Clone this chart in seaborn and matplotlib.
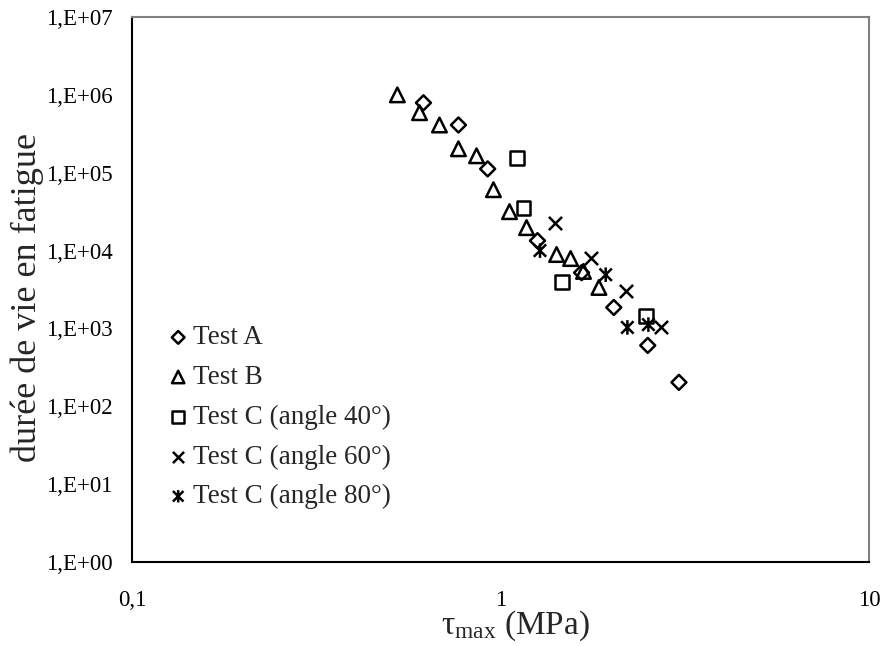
import numpy as np
import pandas as pd
import seaborn as sns
import matplotlib
matplotlib.use("Agg")
import matplotlib.pyplot as plt
from matplotlib.path import Path
from matplotlib.ticker import LogLocator, NullFormatter

# Fatigue life versus maximum shear stress, per test series
tau_a = [0.618, 0.769, 0.923, 1.26, 1.66, 2.03, 2.51, 3.05]
n_a = [7.9e5, 4.1e5, 1.12e5, 1.34e4, 5.2e3, 1.86e3, 605, 203]

tau_b = [0.525, 0.603, 0.683, 0.769, 0.861, 0.957, 1.058, 1.177, 1.42, 1.55, 1.68, 1.85]
n_b = [1.0e6, 5.9e5, 4.1e5, 2.03e5, 1.65e5, 6.05e4, 3.16e4, 1.97e4, 8.9e3, 7.9e3, 5.4e3, 3.36e3]

tau_c40 = [1.11, 1.155, 1.47, 2.48]
n_c40 = [1.56e5, 3.56e4, 3.9e3, 1.43e3]

tau_c60 = [1.41, 1.76, 2.19, 2.72]
n_c60 = [2.29e4, 8.1e3, 3.07e3, 1.03e3]

tau_c80 = [1.28, 1.93, 2.21, 2.52]
n_c80 = [1.0e4, 4.9e3, 1.03e3, 1.12e3]

labels = ["Test A", "Test B", "Test C (angle 40°)", "Test C (angle 60°)", "Test C (angle 80°)"]

x_ticks = [0.1, 1, 10]
x_ticklabels = ["0,1", "1", "10"]
y_ticks = [1e0, 1e1, 1e2, 1e3, 1e4, 1e5, 1e6, 1e7]
y_ticklabels = ["1,E+00", "1,E+01", "1,E+02", "1,E+03", "1,E+04", "1,E+05", "1,E+06", "1,E+07"]

# six-armed asterisk: vertical bar plus a diagonal cross
star_path = Path(
    [(0, -1), (0, 1), (-0.85, -0.85), (0.85, 0.85), (-0.85, 0.85), (0.85, -0.85)],
    [Path.MOVETO, Path.LINETO, Path.MOVETO, Path.LINETO, Path.MOVETO, Path.LINETO],
)

series = [
    (tau_a, n_a, "D", 58),
    (tau_b, n_b, "^", 110),
    (tau_c40, n_c40, "s", 100),
    (tau_c60, n_c60, "x", 90),
    (tau_c80, n_c80, star_path, 110),
]

sns.set_theme(style="white")
plt.rcParams["font.family"] = ["Liberation Serif", "DejaVu Serif"]
plt.rcParams["mathtext.fontset"] = "stix"

fig = plt.figure(figsize=(8.84, 6.46), dpi=100)
ax = fig.add_axes([0.1493, 0.130, 0.8337, 0.8437])

for (xs, ys, mk, sz), lab in zip(series, labels):
    df = pd.DataFrame({"tau": xs, "n": ys})
    if mk == "x":
        sns.scatterplot(data=df, x="tau", y="n", marker=mk, s=sz, color="black",
                        linewidth=1.8, label=lab, ax=ax)
    else:
        sns.scatterplot(data=df, x="tau", y="n", marker=mk, s=sz, facecolor="none",
                        edgecolor="black", linewidth=1.8, label=lab, ax=ax)

ax.set_xscale("log")
ax.set_yscale("log")
ax.set_xlim(0.1, 10)
ax.set_ylim(1, 1e7)

ax.set_xticks(x_ticks)
ax.set_xticklabels(x_ticklabels)
ax.set_yticks(y_ticks)
ax.set_yticklabels(y_ticklabels)
ax.xaxis.set_minor_locator(LogLocator(base=10, subs=np.arange(2, 10)))
ax.yaxis.set_minor_locator(LogLocator(base=10, subs=np.arange(2, 10)))
ax.xaxis.set_minor_formatter(NullFormatter())
ax.yaxis.set_minor_formatter(NullFormatter())

ax.tick_params(which="major", direction="in", length=6, width=1.0, color="black",
               labelsize=16.5, labelcolor="black")
ax.tick_params(which="minor", direction="in", length=4, width=0.8, color="black")
ax.tick_params(axis="y", which="major", pad=14)
ax.tick_params(axis="x", which="major", pad=20)

for side in ["left", "bottom"]:
    ax.spines[side].set_color("black")
    ax.spines[side].set_linewidth(1.5)
for side in ["top", "right"]:
    ax.spines[side].set_color("#808080")
    ax.spines[side].set_linewidth(1.5)

ax.set_xlabel(r"$\mathregular{\tau_{max}}$ (MPa)", fontsize=24)
ax.xaxis.set_label_coords(0.52, -0.086)
ax.set_ylabel("durée de vie en fatigue", fontsize=26)
ax.yaxis.set_label_coords(-0.12, 0.485)

leg = ax.legend(loc="upper left", bbox_to_anchor=(0.048, 0.434), frameon=False,
                fontsize=19.5, handletextpad=0.15, handlelength=0.8,
                labelspacing=0.54, borderaxespad=0, borderpad=0, markerscale=0.85)

fig.savefig("out.png", dpi=100)
